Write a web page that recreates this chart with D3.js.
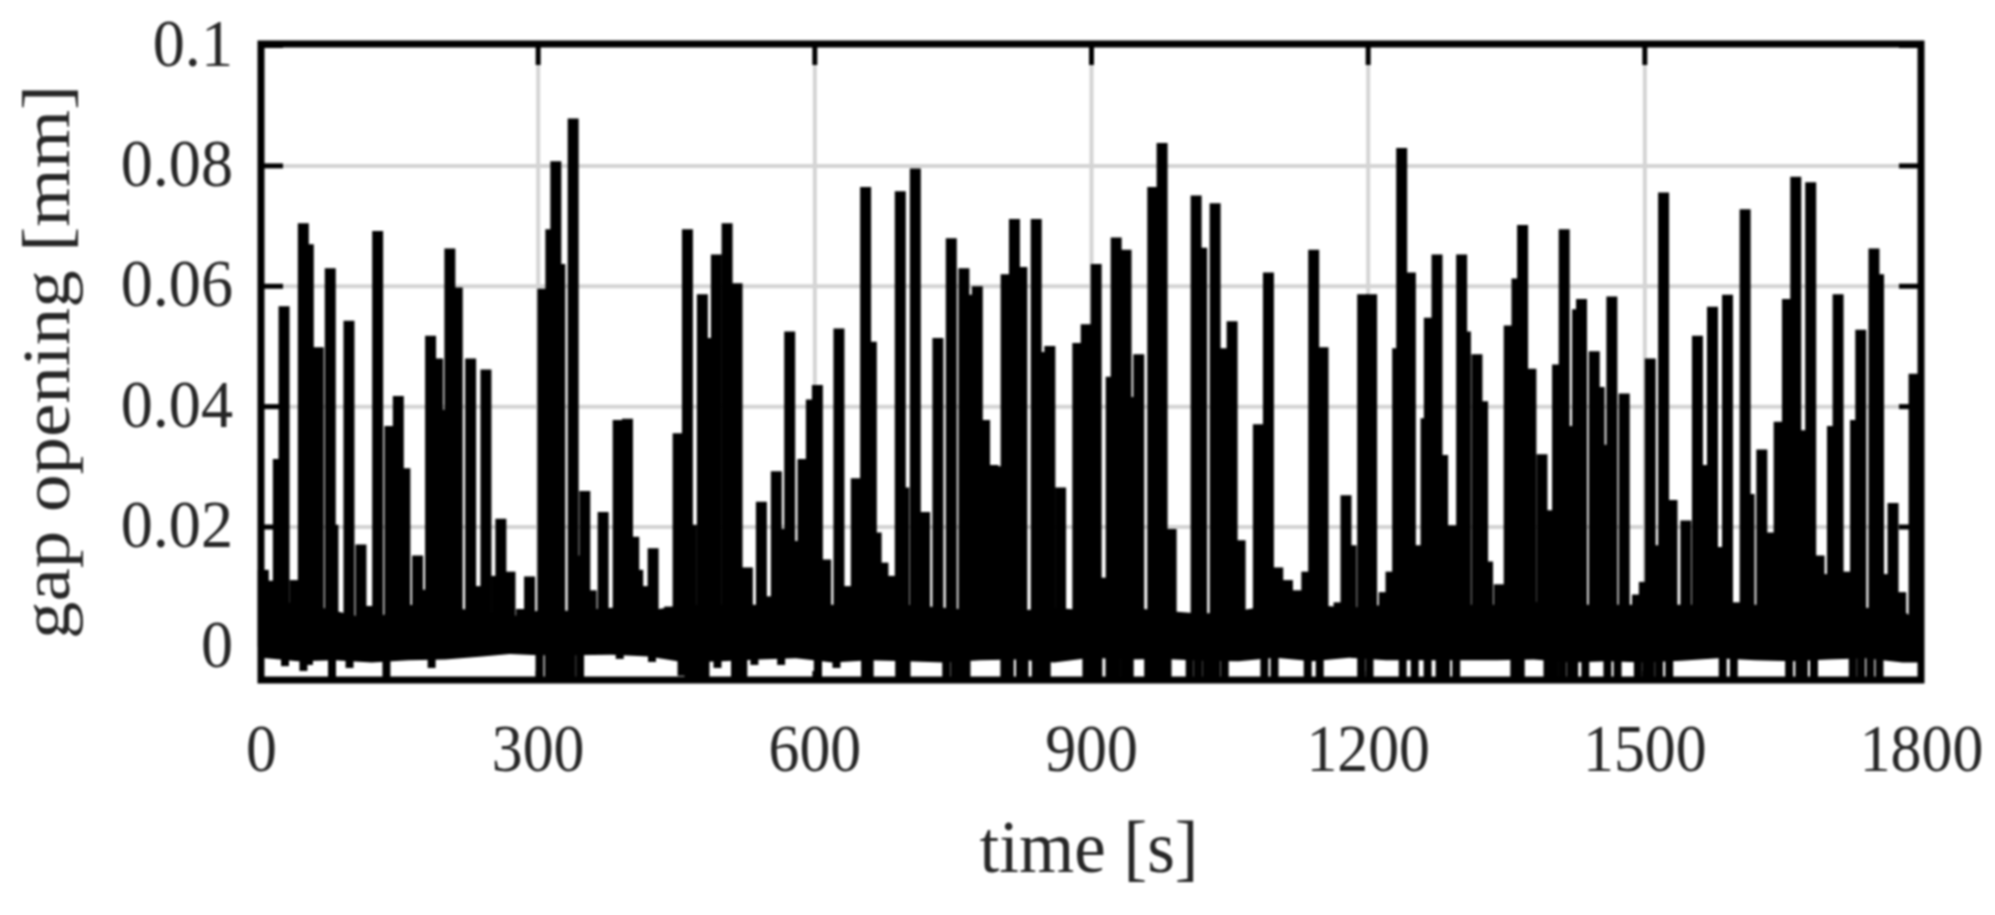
<!DOCTYPE html>
<html><head><meta charset="utf-8">
<script src="https://cdn.jsdelivr.net/npm/d3@7"></script>
<style>
html,body{margin:0;background:#fff;overflow:hidden}
svg{display:block;filter:blur(0.8px)}
text{font-family:"Liberation Serif",serif;fill:#262626}
</style></head><body>
<script>
const xTicks=[0,300,600,900,1200,1500,1800];
const yTicks=[0,0.02,0.04,0.06,0.08,0.1];
const yTickLabels=["0","0.02","0.04","0.06","0.08","0.1"];
const xTitle="time [s]";
const yTitle="gap opening [mm]";

// tops of the dark bursts
const burstTime=[2.5,10,18.8,25,36.8,45.9,51.3,55,62.1,75.1,78,95.4,108.4,118,126.5,139.8,148.9,156,169.8,176,183.9,191.5,197,204.8,212.8,227.3,234,243.9,255.4,260.1,270,282.6,291.2,
305.7,314.3,319.7,324,338.5,347,351.1,358,371,387.3,397.4,404.2,408.5,414,425.2,435,443.2,452.3,462.4,466.7,478.6,486.6,493.8,505.4,516.2,527.4,535,542.6,550,558.8,566,573.3,580,587.7,596.8,603.3,612.3,
626.7,634.7,645.5,655.6,661.8,667,674.4,685,693.2,697,709.5,719.6,734,748.5,762.2,767,776.7,784.6,793.6,800,808,817,825,840.6,849.6,855.4,867,885.7,894.8,905.6,914.6,
921.9,927.3,938,943.5,951.8,967,977.1,986.9,997,1014,1020,1034.6,1042.9,1053,1061.7,1072,1081.5,1092.4,1102.5,1113,1123,1134,1141.5,1151.6,1169,1176.5,1182,1194.6,1204.3,1218,1225.3,
1232.5,1236.9,1246.3,1256,1263.3,1266.9,1275.2,1281.3,1291,1301.9,1306,1318.5,1324.6,1330,1342.7,1353.5,1361.9,1368,1377,1389,1398.7,1405.9,1413.1,1420.4,1427.6,1431.9,1445.7,1451,1456.5,1464.8,1478.2,1492.6,1500,1506.4,1512.5,1520.9,1530,
1545,1557.6,1564.9,1573.9,1584,1590.2,1600,1609.3,1613.6,1627.4,1637,1646.2,1655.2,1664.2,1670,1680.4,1689.5,1696,1704,1710.1,1720,1729,1734.7,1749,1754,1761.7,1769.7,1778,1785,1792.5];
const burstTop=[0.0128,0.011,0.0312,0.0566,0.0111,0.0704,0.0669,0.04,0.0498,0.0629,0.0203,0.0542,0.017,0.0068,0.0691,0.0367,0.0417,0.0297,0.0152,0.0095,0.0517,0.0479,0.0394,0.0662,0.0597,0.0479,0.0101,0.0461,0.0118,0.0213,0.0125,0.0063,0.0117,
0.0595,0.0694,0.0807,0.0636,0.0878,0.0152,0.0259,0.0094,0.0224,0.0377,0.0379,0.0183,0.0128,0.0101,0.0164,0.0046,0.0067,0.0355,0.0694,0.0203,0.0586,0.0513,0.0652,0.0704,0.0604,0.0132,0.0063,0.0241,0.0084,0.0292,0.0196,0.0524,0.0176,0.0312,0.0411,0.0435,0.0145,
0.0529,0.0101,0.028,0.0764,0.0507,0.019,0.014,0.0118,0.0757,0.0265,0.0795,0.0224,0.0513,0.0679,0.0629,0.0585,0.0599,0.0377,0.0302,0.03,0.0619,0.0711,0.0631,0.0711,0.049,0.05,0.0265,0.0505,0.0536,0.0636,0.0115,
0.0449,0.068,0.066,0.0415,0.0486,0.0764,0.0837,0.0196,0.0043,0.075,0.0663,0.0737,0.0496,0.0541,0.0177,0.0033,0.037,0.0622,0.0132,0.0111,0.0094,0.0125,0.066,0.0498,0.0074,0.0252,0.0169,0.0586,0.0586,0.0091,0.0125,
0.0496,0.0829,0.0622,0.0169,0.038,0.0547,0.0652,0.0319,0.0202,0.0652,0.0524,0.0486,0.0408,0.0142,0.0104,0.0534,0.0612,0.0701,0.0462,0.032,0.0227,0.0469,0.0694,0.0367,0.0561,0.0578,0.0491,0.0432,0.0336,0.0582,0.0421,0.0087,0.0108,0.0479,0.0169,0.0755,0.0244,
0.021,0.0517,0.0302,0.0565,0.0166,0.0585,0.0074,0.0727,0.0254,0.0328,0.019,0.0374,0.0578,0.0781,0.036,0.0772,0.0152,0.0121,0.0367,0.0586,0.0125,0.0377,0.0527,0.0662,0.0619,0.0121,0.0239,0.0091,0.004,0.0454];

// the dense low part of the record
const floorTime=[0,40,80,120,160,200,240,270,300,340,380,420,460,500,540,580,620,660,700,740,780,820,860,900,940,980,1020,1060,1100,1140,1180,1220,1260,1300,1340,1380,1420,1460,1500,1540,1580,1620,1660,1700,1740,1780,1800];
const floorHigh=[0.0068,0.0075,0.006,0.0045,0.007,0.0065,0.006,0.005,0.006,0.006,0.0065,0.006,0.007,0.007,0.007,0.007,0.007,0.006,0.007,0.0065,0.006,0.006,0.0065,0.006,0.0065,0.006,0.0055,0.006,0.007,0.007,0.0065,0.007,0.007,0.007,0.007,0.0075,0.007,0.007,0.007,0.007,0.007,0.007,0.007,0.007,0.0065,0.006,0.004];
const floorLow=[-0.0018,-0.0024,-0.0022,-0.0026,-0.0022,-0.0021,-0.0016,-0.0012,-0.0014,-0.0014,-0.0013,-0.0016,-0.0026,-0.0024,-0.0021,-0.0019,-0.0026,-0.0022,-0.0024,-0.0026,-0.0022,-0.0021,-0.0026,-0.0018,-0.0021,-0.002,-0.0023,-0.0024,-0.0018,-0.0024,-0.0018,-0.0022,-0.0022,-0.0022,-0.0022,-0.0021,-0.0026,-0.0024,-0.0026,-0.0023,-0.0019,-0.0022,-0.0024,-0.0021,-0.0019,-0.0026,-0.0026];

// thin dips of the record towards the lower frame
const dipTime=[26,46,52,77,96,136,185,302,312,319,325,331,337,346,389,424,456,463.5,470,478,482,495,514,519,523,535,564,604,624,655,660,692,700,743,752,758,765,806,812,823,828,840,846,852,895,902,908,920,928,936,942,962,970,978,983,1007,1016,1025,1028,1036,1045,1088,1099,1135,1148,1193,1202,1238,1251,1265,1278,1285,1296,1359,1366,1395,1403,1411,1420,1424,1436,1460,1471,1493,1502,1507,1516,1527,1585,1597,1657,1668,1673,1684,1726,1735,1745,1755];
const dipLow=[-0.0032,-0.004,-0.003,-0.0052,-0.0035,-0.0055,-0.0035,-0.0055,-0.0055,-0.0055,-0.0055,-0.0055,-0.0055,-0.0055,-0.002,-0.0025,-0.0048,-0.0052,-0.0052,-0.0055,-0.0055,-0.0035,-0.0055,-0.0055,-0.0055,-0.003,-0.003,-0.0055,-0.0035,-0.0055,-0.0055,-0.0055,-0.0055,-0.0055,-0.0055,-0.0055,-0.0055,-0.0055,-0.0055,-0.0055,-0.0055,-0.0055,-0.0055,-0.0055,-0.0055,-0.0055,-0.0055,-0.0055,-0.0055,-0.0055,-0.0055,-0.0055,-0.0055,-0.0055,-0.0055,-0.0055,-0.0055,-0.0055,-0.0055,-0.0055,-0.0055,-0.0055,-0.0055,-0.0055,-0.0055,-0.0055,-0.0055,-0.0055,-0.0055,-0.0055,-0.0055,-0.0055,-0.0055,-0.0055,-0.0055,-0.0055,-0.0055,-0.0055,-0.0055,-0.0055,-0.0055,-0.0055,-0.0055,-0.0055,-0.0055,-0.0055,-0.0055,-0.0055,-0.0055,-0.0055,-0.0055,-0.0055,-0.0055,-0.0055,-0.0055,-0.0055,-0.0055,-0.0055];

const W=1995,H=915,plotLeft=261,plotRight=1921,plotTop=45,plotBottom=680;
const x=d3.scaleLinear().domain([0,1800]).range([plotLeft,plotRight]);
const y=d3.scaleLinear().domain([-0.0055,0.1]).range([plotBottom,plotTop]);
const svg=d3.select("body").append("svg").attr("width",W).attr("height",H);

// grid
svg.append("g").attr("transform",`translate(0,${plotBottom})`)
  .call(d3.axisBottom(x).tickValues(xTicks.slice(1,-1)).tickSize(plotTop-plotBottom).tickFormat(""))
  .call(g=>g.select(".domain").remove())
  .selectAll("line").attr("stroke","#d4d4d4").attr("stroke-width",4);
svg.append("g").attr("transform",`translate(${plotLeft},0)`)
  .call(d3.axisLeft(y).tickValues(yTicks.slice(1,-1)).tickSize(plotLeft-plotRight).tickFormat(""))
  .call(g=>g.select(".domain").remove())
  .selectAll("line").attr("stroke","#d4d4d4").attr("stroke-width",4);

// record
const plot=svg.append("g");
const floorRows=floorTime.map((t,i)=>({t,hi:floorHigh[i],lo:floorLow[i]}));
plot.append("path").datum(floorRows)
  .attr("d",d3.area().x(d=>x(d.t)).y0(d=>y(d.lo)).y1(d=>y(d.hi)))
  .attr("fill","#000");
plot.selectAll("line.burst").data(burstTime).join("line").attr("class","burst")
  .attr("x1",d=>x(d)).attr("x2",d=>x(d))
  .attr("y1",y(0)).attr("y2",(d,i)=>y(burstTop[i]))
  .attr("stroke","#000").attr("stroke-width",11);
plot.selectAll("line.dip").data(dipTime).join("line").attr("class","dip")
  .attr("x1",d=>x(d)).attr("x2",d=>x(d))
  .attr("y1",y(0)).attr("y2",(d,i)=>y(dipLow[i]))
  .attr("stroke","#000").attr("stroke-width",8);

// axes: ticks point inward on all sides
const styleAxis=g=>{g.select(".domain").remove();g.selectAll("line").attr("stroke","#000").attr("stroke-width",5);};
svg.append("g").attr("transform",`translate(0,${plotTop})`)
  .call(d3.axisTop(x).tickValues(xTicks).tickSize(-20).tickFormat("")).call(styleAxis);
svg.append("g").attr("transform",`translate(${plotRight},0)`)
  .call(d3.axisRight(y).tickValues(yTicks).tickSize(-22).tickFormat("")).call(styleAxis);

const bottomAxis=svg.append("g").attr("transform",`translate(0,${plotBottom})`)
  .call(d3.axisBottom(x).tickValues(xTicks).tickSize(-9).tickFormat(d=>String(d))).call(styleAxis);
bottomAxis.selectAll("text").attr("x",null).attr("y",null).attr("dy",null)
  .attr("text-anchor","middle").attr("font-family",null).attr("fill",null)
  .style("font-size","60px").attr("transform","translate(0,91) scale(1.03,1.14)");

const leftAxis=svg.append("g").attr("transform",`translate(${plotLeft},0)`)
  .call(d3.axisLeft(y).tickValues(yTicks).tickSize(-22).tickFormat((d,i)=>yTickLabels[i])).call(styleAxis);
leftAxis.selectAll("text").attr("x",null).attr("y",null).attr("dy",null)
  .attr("text-anchor","end").attr("font-family",null).attr("fill",null)
  .style("font-size","60px").attr("transform","translate(-28,20) scale(1.07,1.14)");

// frame
svg.append("rect").attr("x",plotLeft).attr("y",plotTop-1).attr("width",plotRight-plotLeft).attr("height",plotBottom-plotTop+1)
  .attr("fill","none").attr("stroke","#000").attr("stroke-width",7);

// titles
svg.append("text").text(xTitle).attr("text-anchor","middle").style("font-size","64px")
  .attr("transform",`translate(${x(900)-2},872) scale(1.11,1.14)`);
svg.append("text").text(yTitle).attr("text-anchor","middle").style("font-size","60px")
  .attr("transform",`translate(69,${(88+636)/2}) rotate(-90) scale(1.25,1.12)`);
</script>
</body></html>
